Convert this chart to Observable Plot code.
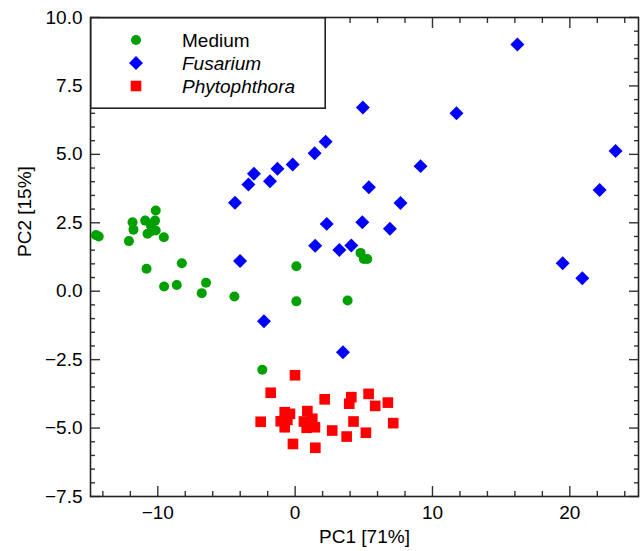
<!DOCTYPE html>
<html><head><meta charset="utf-8">
<script src="https://cdn.jsdelivr.net/npm/d3@7"></script>
<script src="https://cdn.jsdelivr.net/npm/@observablehq/plot@0.6"></script>
<style>
body{margin:0;background:#fff;font-family:"Liberation Sans",Arial,sans-serif;}
#wrap{position:relative;width:640px;height:551px;}
#legend{position:absolute;left:90px;top:17px;}
</style></head><body><div id="wrap"></div>
<script>
// Series: Medium (green circles)
const mediumX = [-14.5,-14.3,-12.1,-11.84,-11.77,-10.92,-10.75,-10.5,-10.2,-10.15,-10.15,-10.45,-9.56,-10.82,-8.25,-9.54,-8.62,-6.8,-6.49,-4.42,0.09,0.09,-2.39,3.82,4.76,5.0,5.25];
const mediumY = [2.05,2.0,1.83,2.52,2.25,2.58,2.10,2.4,2.58,2.95,2.22,2.2,1.97,0.82,1.02,0.17,0.23,-0.07,0.31,-0.19,0.91,-0.37,-2.87,-0.34,1.40,1.18,1.18];
// Series: Fusarium (blue diamonds)
const fusariumX = [-4.38,-3.4,-3.0,-1.83,-1.29,-0.18,1.42,2.22,4.93,11.75,16.18,9.13,5.37,7.67,23.33,22.17,2.3,4.89,6.9,1.46,3.22,4.09,-4.01,-2.27,3.48,19.48,20.91];
const fusariumY = [3.23,3.90,4.29,4.02,4.47,4.63,5.04,5.46,6.71,6.50,9.01,4.57,3.80,3.22,5.12,3.70,2.46,2.52,2.28,1.66,1.51,1.67,1.10,-1.10,-2.23,1.02,0.47];
// Series: Phytophthora (red squares)
const phytoX = [-0.01,-1.78,-2.51,2.15,4.09,3.94,5.35,5.83,6.75,7.14,4.25,5.15,3.75,2.7,1.47,-0.16,-0.76,-0.38,-1.05,-0.57,-0.76,0.89,0.64,1.25,0.84,1.44,1.13];
const phytoY = [-3.07,-3.71,-4.77,-3.95,-3.87,-4.11,-3.75,-4.19,-4.07,-4.82,-4.76,-5.17,-5.31,-5.09,-5.72,-5.58,-4.42,-4.48,-4.75,-4.70,-4.97,-4.38,-4.76,-4.66,-4.99,-4.97,-4.85];

const groups = ["Medium","Fusarium","Phytophthora"];
const colors = ["#00a000","#0000ff","#ff0000"];
const symbols = ["circle","diamond2","square"];
const radii = [5,6.3,6];

// Tick positions / labels
const xMajor = [-10,0,10,20];
const xMinor = [-14,-12,-8,-6,-4,-2,2,4,6,8,12,14,16,18,22,24];
const yMajor = [-7.5,-5,-2.5,0,2.5,5,7.5,10];
const yMinor = [-7,-6.5,-6,-5.5,-4.5,-4,-3.5,-3,-2,-1.5,-1,-0.5,0.5,1,1.5,2,3,3.5,4,4.5,5.5,6,6.5,7,8,8.5,9,9.5];

const xLabel = "PC1 [71%]";
const yLabel = "PC2 [15%]";

const rows = [];
const seriesX = [mediumX, fusariumX, phytoX];
const seriesY = [mediumY, fusariumY, phytoY];
groups.forEach((g,i) => seriesX[i].forEach((x,j) => rows.push({group:g, x, y: seriesY[i][j]})));

const W = 640, H = 551, mL = 90, mR = 2, mT = 17, mB = 55;
const majorLen = 10, minorLen = 5;
const tickStroke = "#333";

const plot = Plot.plot({
  width: W, height: H,
  marginLeft: mL, marginRight: mR, marginTop: mT, marginBottom: mB,
  style: {fontFamily: '"Liberation Sans", Arial, sans-serif', fontSize: "19px", color: "#000", background: "#fff"},
  x: {domain: [-14.9, 25]},
  y: {domain: [-7.5, 10]},
  marks: [
    // inward ticks on all four sides (axis ticks shifted into the frame)
    Plot.axisX({anchor:"bottom", ticks:xMajor, tickSize:majorLen, dy:-majorLen, tickFormat:() => "", label:null, stroke:tickStroke, strokeWidth:1.4}),
    Plot.axisX({anchor:"bottom", ticks:xMinor, tickSize:minorLen, dy:-minorLen, tickFormat:() => "", label:null, stroke:tickStroke, strokeWidth:1.4}),
    Plot.axisX({anchor:"top", ticks:xMajor, tickSize:majorLen, dy:majorLen, tickFormat:() => "", label:null, stroke:tickStroke, strokeWidth:1.4}),
    Plot.axisX({anchor:"top", ticks:xMinor, tickSize:minorLen, dy:minorLen, tickFormat:() => "", label:null, stroke:tickStroke, strokeWidth:1.4}),
    Plot.axisY({anchor:"left", ticks:yMajor, tickSize:majorLen, dx:majorLen, tickFormat:() => "", label:null, stroke:tickStroke, strokeWidth:1.4}),
    Plot.axisY({anchor:"left", ticks:yMinor, tickSize:minorLen, dx:minorLen, tickFormat:() => "", label:null, stroke:tickStroke, strokeWidth:1.4}),
    Plot.axisY({anchor:"right", ticks:yMajor, tickSize:majorLen, dx:-majorLen, tickFormat:() => "", label:null, stroke:tickStroke, strokeWidth:1.4}),
    Plot.axisY({anchor:"right", ticks:yMinor, tickSize:minorLen, dx:-minorLen, tickFormat:() => "", label:null, stroke:tickStroke, strokeWidth:1.4}),
    Plot.axisX({anchor:"bottom", ticks:xMajor, tickSize:0, tickPadding:9, label:null, fontSize:19, fill:"#000"}),
    Plot.axisY({anchor:"left", ticks:yMajor, tickSize:0, tickPadding:8, tickFormat:d3.format(".1f"), label:null, fontSize:19, fill:"#000"}),
    Plot.frame({stroke:"#222", strokeWidth:1.6}),
    ...groups.map((g,i) => Plot.dot(rows.filter(d => d.group === g), {
      x:"x", y:"y", symbol: () => symbols[i], r: radii[i], fill: colors[i], stroke: "none"
    })),
    Plot.text([xLabel], {frameAnchor:"bottom", dy:46, fontSize:19, fill:"#000"}),
    Plot.text([yLabel], {frameAnchor:"left", dx:-66, rotate:-90, fontSize:19, fill:"#000"})
  ]
});
const wrap = document.getElementById("wrap");
wrap.appendChild(plot);

// Legend box (top-left, inside the frame)
const lg = d3.select(wrap).append("svg").attr("id","legend").attr("width",236).attr("height",92);
lg.append("rect").attr("x",0.8).attr("y",0.8).attr("width",234.4).attr("height",90.4).attr("fill","#fff").attr("stroke","#222").attr("stroke-width",1.6);
const symMap = {circle: d3.symbolCircle, diamond2: d3.symbolDiamond2, square: d3.symbolSquare};
groups.forEach((g,i) => {
  const cy = 23 + i*23;
  lg.append("path").attr("transform",`translate(46,${cy})`)
    .attr("d", d3.symbol(symMap[symbols[i]], radii[i]*radii[i]*Math.PI)()).attr("fill", colors[i]);
  lg.append("text").attr("x",92).attr("y",cy).attr("dy","0.36em")
    .attr("font-family",'"Liberation Sans", Arial, sans-serif').attr("font-size",19)
    .attr("font-style", i === 0 ? "normal" : "italic").text(g);
});
</script>
</body></html>
